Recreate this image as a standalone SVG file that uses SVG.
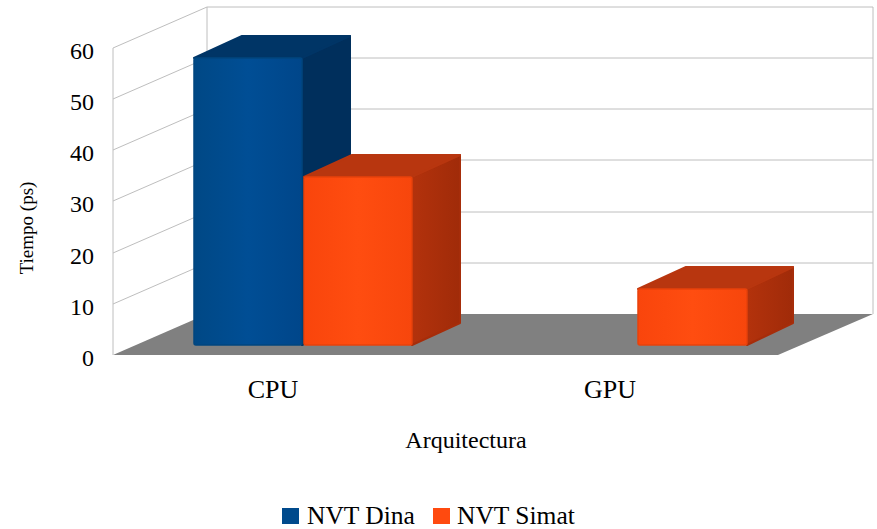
<svg xmlns="http://www.w3.org/2000/svg" width="877" height="529" viewBox="0 0 877 529">
  <style>
    .grid { stroke: #BEBEBE; stroke-width: 1; fill: none; }
    text { font-family: 'Liberation Serif', 'DejaVu Serif', serif; fill: #000000; }
    .tick { font-size: 24px; text-anchor: end; }
    .cat { font-size: 26px; text-anchor: middle; }
  </style>
  <defs>
    <linearGradient id="blueFront" x1="0" y1="0" x2="1" y2="0">
      <stop offset="0" stop-color="#004885"/>
      <stop offset="0.5" stop-color="#004E95"/>
      <stop offset="1" stop-color="#00468A"/>
    </linearGradient>
    <linearGradient id="orangeFront" x1="0" y1="0" x2="1" y2="0">
      <stop offset="0" stop-color="#F9450C"/>
      <stop offset="0.5" stop-color="#FF4D10"/>
      <stop offset="1" stop-color="#F7460C"/>
    </linearGradient>
    <linearGradient id="orangeSide" x1="0" y1="0" x2="1" y2="0">
      <stop offset="0" stop-color="#B3320C"/>
      <stop offset="1" stop-color="#A02B09"/>
    </linearGradient>
  </defs>

  <!-- walls and gridlines -->
  <g id="walls">
    <rect x="0" y="0" width="877" height="529" fill="#FFFFFF"/>
    <polygon points="113,355 207,314 873,314 778,355" fill="#808080"/>
    <line class="grid" x1="113" y1="48" x2="113" y2="355"/>
    <line class="grid" x1="207" y1="7" x2="207" y2="314"/>
    <line class="grid" x1="873" y1="7" x2="873" y2="314"/>
    <g class="grid">
      <line x1="207" y1="7" x2="873" y2="7"/>
      <line x1="207" y1="58" x2="873" y2="58"/>
      <line x1="207" y1="109" x2="873" y2="109"/>
      <line x1="207" y1="160" x2="873" y2="160"/>
      <line x1="207" y1="212" x2="873" y2="212"/>
      <line x1="207" y1="263" x2="873" y2="263"/>
      <line x1="113" y1="48" x2="207" y2="7"/>
      <line x1="113" y1="99" x2="207" y2="58"/>
      <line x1="113" y1="150" x2="207" y2="109"/>
      <line x1="113" y1="201" x2="207" y2="160"/>
      <line x1="113" y1="253" x2="207" y2="212"/>
      <line x1="113" y1="304" x2="207" y2="263"/>
    </g>
  </g>

  <!-- CPU, NVT Dina -->
  <g id="bar-cpu-dina" stroke-linejoin="round" stroke-width="2">
    <polygon points="302,58 350,36 350,323 302,345" fill="#002F5C" stroke="#002F5C"/>
    <polygon points="194,58 242,36 350,36 302,58" fill="#003566" stroke="#003566"/>
    <rect x="194" y="58" width="108" height="287" fill="url(#blueFront)" stroke="#00467F" stroke-width="1.5" rx="2"/>
  </g>

  <!-- CPU, NVT Simat -->
  <g id="bar-cpu-simat" stroke-linejoin="round" stroke-width="2">
    <polygon points="412,177 460,155 460,323 412,345" fill="url(#orangeSide)" stroke="#A62D0A"/>
    <polygon points="304,177 352,155 460,155 412,177" fill="#B8360F" stroke="#B8360F"/>
    <rect x="304" y="177" width="108" height="168" fill="url(#orangeFront)" stroke="#E8420B" stroke-width="1.5" rx="2"/>
  </g>

  <!-- GPU, NVT Simat -->
  <g id="bar-gpu-simat" stroke-linejoin="round" stroke-width="2">
    <polygon points="747,289 793,267 793,323 747,345" fill="url(#orangeSide)" stroke="#A62D0A"/>
    <polygon points="638,289 686,267 793,267 747,289" fill="#B8360F" stroke="#B8360F"/>
    <rect x="638" y="289" width="109" height="56" fill="url(#orangeFront)" stroke="#E8420B" stroke-width="1.5" rx="2"/>
  </g>

  <!-- axis labels -->
  <g id="axis-y">
    <text class="tick" x="94" y="59">60</text>
    <text class="tick" x="94" y="110">50</text>
    <text class="tick" x="94" y="161">40</text>
    <text class="tick" x="94" y="212">30</text>
    <text class="tick" x="94" y="264">20</text>
    <text class="tick" x="94" y="315">10</text>
    <text class="tick" x="94" y="366">0</text>
    <text x="33" y="228" font-size="19" text-anchor="middle" transform="rotate(-90 33 228)">Tiempo (ps)</text>
  </g>
  <g id="axis-x">
    <text class="cat" x="273" y="398">CPU</text>
    <text class="cat" x="610" y="398">GPU</text>
    <text x="466" y="448" font-size="24" text-anchor="middle">Arquitectura</text>
  </g>

  <!-- legend -->
  <g id="legend">
    <rect x="282" y="508" width="17" height="16" fill="#004A8C"/>
    <text x="307" y="524" font-size="25.5">NVT Dina</text>
    <rect x="433" y="508" width="17" height="16" fill="#FF4A0F"/>
    <text x="457" y="524" font-size="25.5">NVT Simat</text>
  </g>
</svg>
